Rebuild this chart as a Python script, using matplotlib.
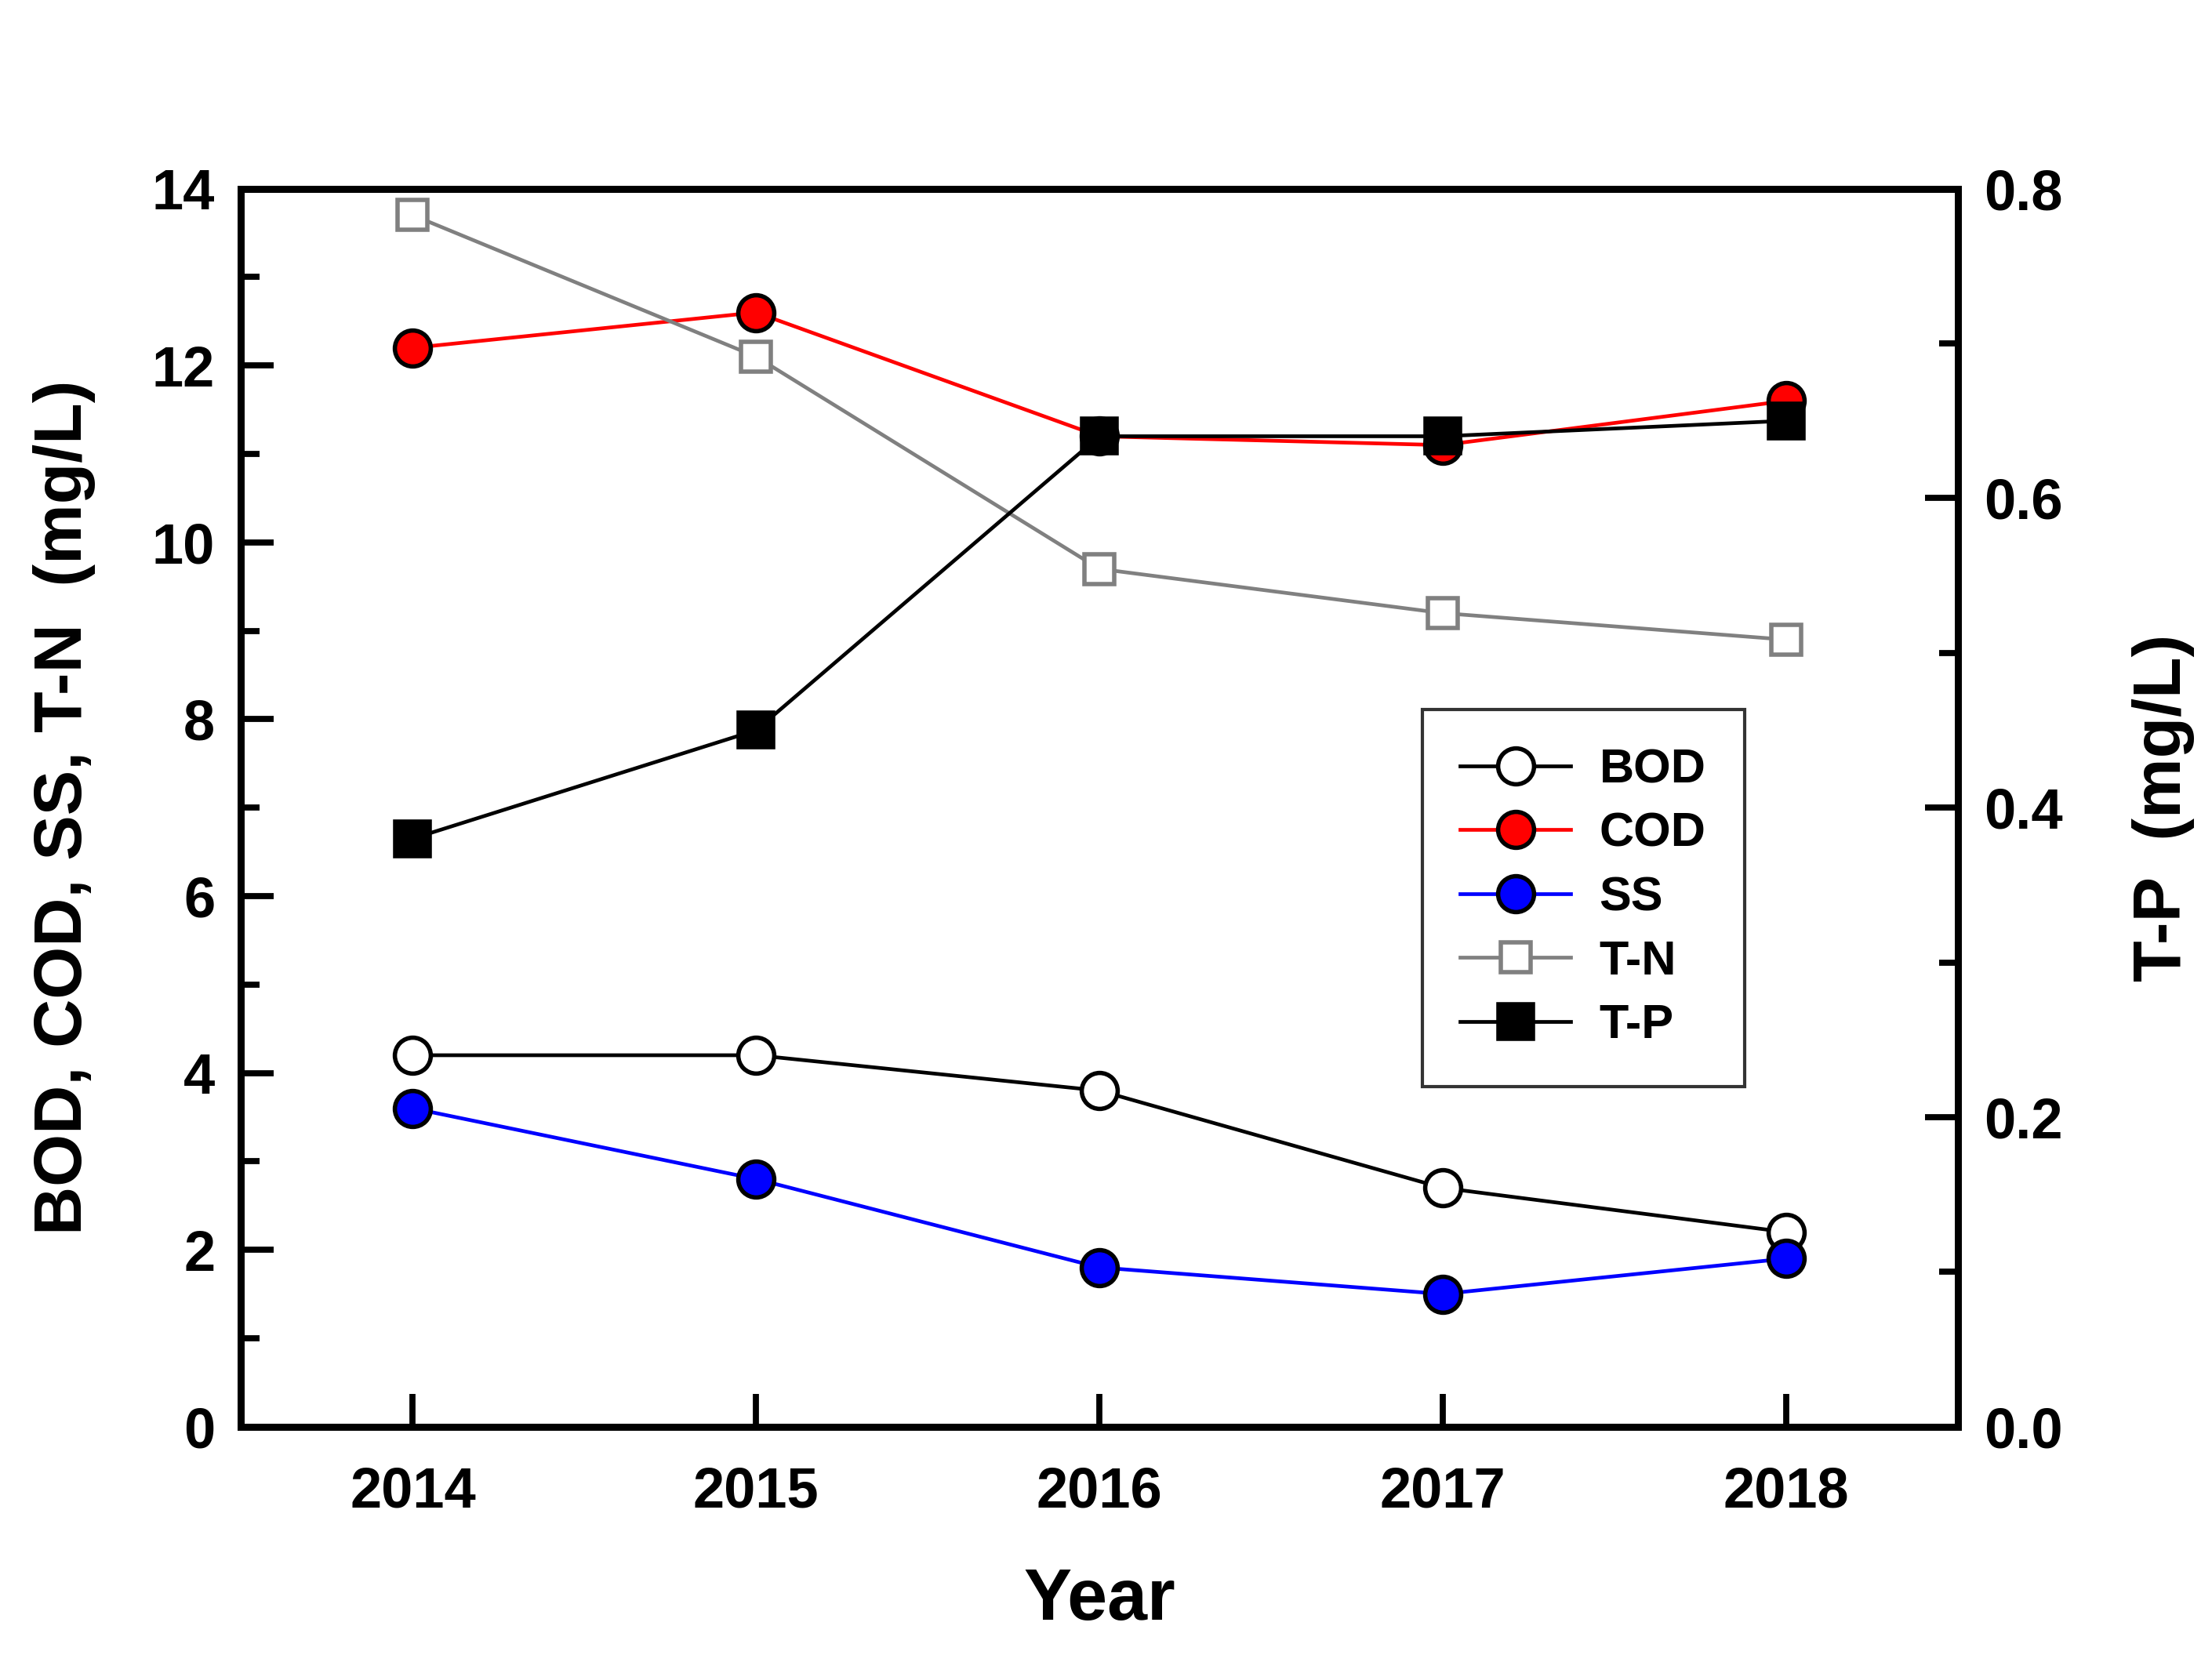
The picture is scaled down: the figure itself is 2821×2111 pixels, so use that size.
import numpy as np
import matplotlib
matplotlib.use('Agg')
import matplotlib.pyplot as plt
from matplotlib.ticker import MultipleLocator

plt.rcParams['font.family'] = ['Liberation Sans', 'DejaVu Sans']
plt.rcParams['font.weight'] = 'bold'

years = [2014, 2015, 2016, 2017, 2018]
bod = [4.2, 4.2, 3.8, 2.7, 2.2]
cod = [12.2, 12.6, 11.2, 11.1, 11.6]
ss = [3.6, 2.8, 1.8, 1.5, 1.9]
tn = [13.7, 12.1, 9.7, 9.2, 8.9]
tp = [0.38, 0.45, 0.64, 0.64, 0.65]

fig = plt.figure(figsize=(14.105, 10.555), dpi=200)
ax = fig.add_axes([0.109, 0.138, 0.776, 0.748])
ax2 = ax.twinx()

ms = 16.5
lw = 1.7
mew = 2.0
l1, = ax.plot(years, bod, '-o', color='black', lw=lw, ms=ms, mfc='white', mec='black', mew=mew, label='BOD')
l2, = ax.plot(years, cod, '-o', color='red', lw=lw, ms=ms, mfc='red', mec='black', mew=mew, label='COD')
l3, = ax.plot(years, ss, '-o', color='blue', lw=lw, ms=ms, mfc='blue', mec='black', mew=mew, label='SS')
l4, = ax.plot(years, tn, '-s', color='gray', lw=lw, ms=14, mfc='white', mec='gray', mew=mew, label='T-N')
l5, = ax2.plot(years, tp, '-s', color='black', lw=lw, ms=15.5, mfc='black', mec='black', mew=mew, label='T-P')

ax.set_xlim(2013.5, 2018.5)
ax.set_ylim(0, 14)
ax2.set_ylim(0, 0.8)
ax.set_xticks(years)
ax.yaxis.set_major_locator(MultipleLocator(2))
ax.yaxis.set_minor_locator(MultipleLocator(1))
ax2.yaxis.set_major_locator(MultipleLocator(0.2))
ax2.yaxis.set_minor_locator(MultipleLocator(0.1))
ax2.set_yticklabels(['%.1f' % v for v in ax2.get_yticks()])

for a in (ax, ax2):
    for s in a.spines.values():
        s.set_linewidth(3.2)
    a.tick_params(which='major', direction='in', length=15, width=2.8, labelsize=26, pad=12)
    a.tick_params(which='minor', direction='in', length=8.5, width=2.8)
ax.tick_params(axis='x', which='major', pad=18)
ax.tick_params(axis='y', left=True, right=False)
ax2.tick_params(axis='y', right=True, left=False)

ax.set_xlabel('Year', fontsize=33, fontweight='bold', labelpad=22)
ax.set_ylabel('BOD, COD, SS, T-N  (mg/L)', fontsize=31, fontweight='bold', labelpad=26)
ax2.set_ylabel('T-P  (mg/L)', fontsize=31, fontweight='bold', labelpad=32, rotation=90)

leg = ax2.legend(handles=[l1, l2, l3, l4, l5], loc='upper left', bbox_to_anchor=(0.688, 0.579),
                 fontsize=22, frameon=True, fancybox=False, edgecolor='black',
                 handlelength=2.3, borderpad=0.8, labelspacing=0.4, handletextpad=0.6,
                 borderaxespad=0)
leg.get_frame().set_linewidth(1.5)
for t in leg.get_texts():
    t.set_fontweight('bold')

fig.savefig('out.png', dpi=200)
